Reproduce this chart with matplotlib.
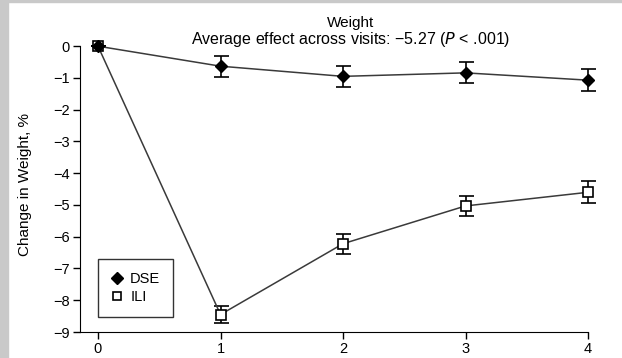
import matplotlib
matplotlib.use("Agg")
import matplotlib.pyplot as plt
from matplotlib.patches import Rectangle
from matplotlib.lines import Line2D

plt.rcParams['font.family'] = ['Liberation Sans', 'DejaVu Sans']

# Data
visits = [0, 1, 2, 3, 4]
dse_mean = [0, -0.63, -0.95, -0.84, -1.07]
dse_err = [0, 0.33, 0.33, 0.33, 0.35]
ili_mean = [0, -8.45, -6.22, -5.03, -4.6]
ili_err = [0, 0.27, 0.31, 0.32, 0.34]
yticks = [0, -1, -2, -3, -4, -5, -6, -7, -8, -9]
ytick_labels = ["0", "\u22121", "\u22122", "\u22123", "\u22124", "\u22125", "\u22126", "\u22127", "\u22128", "\u22129"]

fig = plt.figure(figsize=(6.22, 3.58), dpi=100)
fig.patches.append(Rectangle((0, 0), 8 / 622, 1, transform=fig.transFigure, color="#c9c9c9", zorder=0))
fig.patches.append(Rectangle((0, 1 - 2 / 358), 1, 2 / 358, transform=fig.transFigure, color="#c9c9c9", zorder=0))

ax = fig.add_axes([0.128, 0.0726, 0.847, 0.825])

ax.errorbar(visits, ili_mean, yerr=ili_err, color="#3a3a3a", lw=1.1, marker="s", ms=7,
            mfc="white", mec="black", mew=1.2, ecolor="black", elinewidth=1.2, capsize=5.4,
            capthick=1.2, clip_on=False, zorder=3)
ax.errorbar(visits, dse_mean, yerr=dse_err, color="#3a3a3a", lw=1.1, marker="D", ms=6,
            mfc="black", mec="black", ecolor="black", elinewidth=1.2, capsize=5.4,
            capthick=1.2, clip_on=False, zorder=4)

ax.set_xlim(-0.15, 4.15)
ax.set_ylim(-9, 0.3)
ax.spines['top'].set_visible(False)
ax.spines['right'].set_visible(False)
ax.spines['left'].set_bounds(-9, 0)
ax.spines['bottom'].set_bounds(-0.15, 4)
ax.set_xticks(visits)
ax.set_yticks(yticks)
ax.set_yticklabels(ytick_labels)
ax.tick_params(direction="out", length=5, width=1, labelsize=10.5, pad=2)
ax.set_ylabel("Change in Weight, %", fontsize=11, labelpad=15)

ax.text(0.515, 1.032, "Weight", transform=ax.transAxes, ha="center", va="baseline", fontsize=11)
ax.text(0.515, 0.975, "Average effect across visits: \u22125.27 ($P$ < .001)", transform=ax.transAxes,
        ha="center", va="baseline", fontsize=11.5)

handles = [Line2D([], [], ls="none", marker="D", ms=6, mfc="black", mec="black"),
           Line2D([], [], ls="none", marker="s", ms=6, mfc="white", mec="black", mew=1.2)]
leg = ax.legend(handles, ["DSE", "ILI"], loc="upper left", bbox_to_anchor=(0.035, 0.247),
                borderaxespad=0, fancybox=False, edgecolor="black", fontsize=10.5,
                handlelength=0.8, handletextpad=0.5, borderpad=0.9, labelspacing=0.25)
leg.get_frame().set_linewidth(1)

plt.savefig("out.png", dpi=100)
